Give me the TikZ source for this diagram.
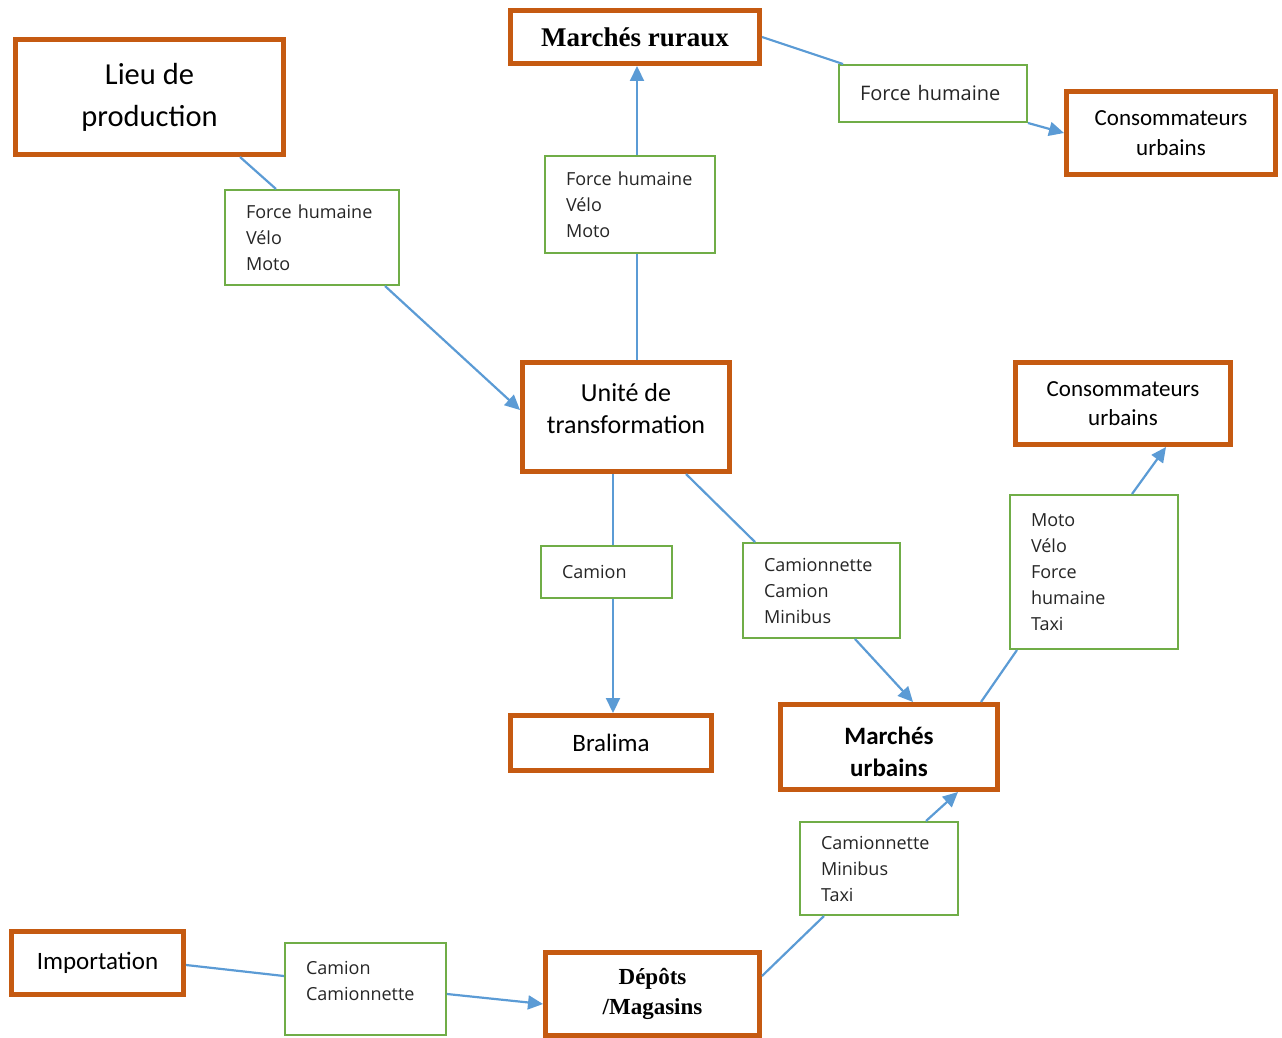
\documentclass[tikz,border=0pt]{standalone}
\usepackage{fontspec}
\setmainfont{Carlito}
\newfontfamily\tnrfont{Liberation Serif}
\newfontfamily\gfont{Open Sans}
\usetikzlibrary{arrows.meta,calc}
\definecolor{oboxc}{HTML}{C55A11}
\definecolor{gboxc}{HTML}{70AD47}
\definecolor{linec}{HTML}{5B9BD5}
\definecolor{gtext}{HTML}{262626}
\tikzset{
  obox/.style={draw=oboxc, line width=5pt, fill=white, align=center, inner sep=1pt},
  gbox/.style={draw=gboxc, line width=2pt, fill=white, align=left, inner xsep=21pt, inner ysep=1pt,
     font=\gfont\fontsize{18}{26}\selectfont, text=gtext},
  conn/.style={draw=linec, line width=2.2pt},
  arr/.style={conn, -{Triangle[length=15pt,width=14pt]}}
}
\begin{document}
\begin{tikzpicture}[x=1pt,y=-1pt]
\useasboundingbox (0,0) rectangle (1282,1038);
% orange boxes
\node[obox, minimum width=268, minimum height=115, font=\fontsize{30.5}{42}\selectfont] (lieu) at (149.5,97) {Lieu de\\production};
\node[obox, minimum width=249, minimum height=53, font=\tnrfont\bfseries\fontsize{27}{30}\selectfont] (rur) at (635,37) {Marchés ruraux};
\node[obox, minimum width=209, minimum height=83, font=\fontsize{23}{30}\selectfont] (cons1) at (1171,133) {Consommateurs\\urbains};
\node[obox, minimum width=207, minimum height=109, font=\fontsize{26}{32}\selectfont] (unite) at (626,417) {Unité de\\transformation\\[-14pt]\mbox{}};
\node[obox, minimum width=215, minimum height=82, font=\fontsize{23}{29}\selectfont] (cons2) at (1123,403.5) {Consommateurs\\urbains};
\node[obox, minimum width=201, minimum height=55, font=\fontsize{25}{30}\selectfont] (bral) at (611,743) {Bralima};
\node[obox, minimum width=217, minimum height=85, font=\bfseries\fontsize{25}{32}\selectfont] (mu) at (889,747) {\mbox{}\\[-4pt]Marchés\\urbains};
\node[obox, minimum width=172, minimum height=63, font=\fontsize{25}{30}\selectfont] (imp) at (97.5,963) {Importation};
\node[obox, minimum width=214, minimum height=83, font=\tnrfont\bfseries\fontsize{23}{30}\selectfont] (dep) at (652.5,994) {Dépôts\\/Magasins};
% green boxes
\node[gbox, text width=132, minimum height=95] (g1) at (312,237.5) {Force humaine\\Vélo\\Moto};
\node[gbox, text width=146, minimum height=57, font=\gfont\fontsize{20}{26}\selectfont] (g2) at (933,93.5) {Force humaine};
\node[gbox, text width=128, minimum height=97] (g3) at (630,204.5) {Force humaine\\Vélo\\Moto};
\node[gbox, text width=89, minimum height=52] (g4) at (606.5,572) {Camion};
\node[gbox, text width=115, minimum height=95] (g5) at (821.5,590.5) {Camionnette\\Camion\\Minibus};
\node[gbox, text width=126, minimum height=154] (g6) at (1094,572) {Moto\\Vélo\\Force\\humaine\\Taxi};
\node[gbox, text width=116, minimum height=93] (g7) at (879,868.5) {Camionnette\\Minibus\\Taxi};
\node[gbox, text width=119, minimum height=92] (g8) at (365.5,989) {Camion\\Camionnette\\[-10pt]\mbox{}};
% connectors
\draw[conn] ([xshift=90.5pt]lieu.south) -- ([xshift=-36pt]g1.north);
\draw[arr] ([xshift=73pt]g1.south) -- ([yshift=7pt]unite.west);
\draw[conn] ([xshift=11pt]unite.north) -- ([xshift=7pt]g3.south);
\draw[arr] ([xshift=7pt]g3.north) -- ([xshift=2pt]rur.south);
\draw[conn] ([yshift=0pt]rur.east) -- ([xshift=5pt]g2.north west);
\draw[arr] (g2.south east) -- (cons1.west);
\draw[conn] ([xshift=-13pt]unite.south) -- ([xshift=6.5pt]g4.north);
\draw[arr] ([xshift=6.5pt]g4.south) -- ([xshift=2pt]bral.north);
\draw[conn] ([xshift=60pt]unite.south) -- ([xshift=-66.5pt]g5.north);
\draw[arr] ([xshift=33.5pt]g5.south) -- ([xshift=24pt]mu.north);
\draw[conn] ([xshift=92pt]mu.north) -- ([xshift=-77pt]g6.south);
\draw[arr] ([xshift=38pt]g6.north) -- ([xshift=43pt]cons2.south);
\draw[conn] ([yshift=-2pt]imp.east) -- ([yshift=13pt]g8.west);
\draw[arr] ([yshift=-5pt]g8.east) -- ([yshift=-10pt]dep.west);
\draw[conn] ([yshift=18pt]dep.east) -- ([xshift=-55pt]g7.south);
\draw[arr] ([xshift=47pt]g7.north) -- ([xshift=69pt]mu.south);
\end{tikzpicture}
\end{document}
